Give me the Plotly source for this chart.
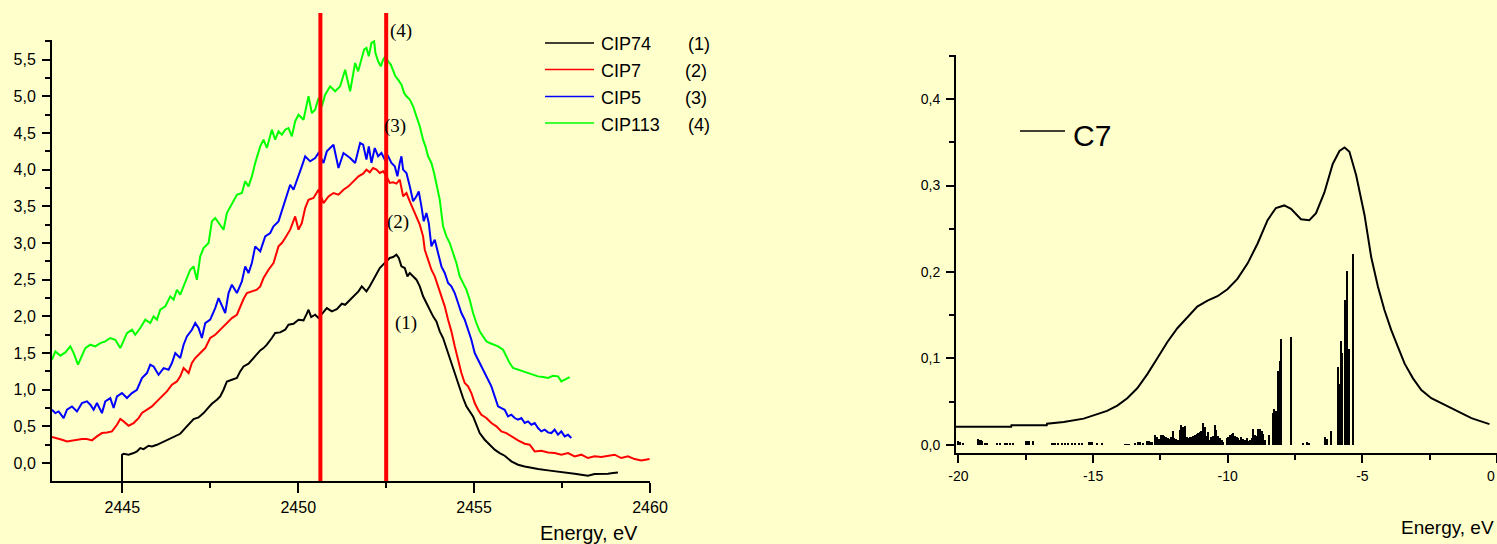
import plotly.graph_objects as go

W, H = 1497, 544

# ---------------- S K-edge spectra (left panel) ----------------
cip74_x = [2444.99, 2444.99, 2445.036, 2445.178, 2445.320, 2445.415, 2445.509, 2445.604, 2445.746, 2445.841,
           2445.983, 2446.125, 2446.267, 2446.409, 2446.551, 2446.646, 2446.788, 2446.883, 2447.025, 2447.167,
           2447.309, 2447.451, 2447.545, 2447.688, 2447.782, 2447.877, 2447.972, 2448.114, 2448.256, 2448.350,
           2448.445, 2448.587, 2448.682, 2448.777, 2448.919, 2449.013, 2449.108, 2449.250, 2449.345, 2449.487,
           2449.629, 2449.723, 2449.866, 2450.008, 2450.150, 2450.244, 2450.292, 2450.367, 2450.481, 2450.576,
           2450.718, 2450.812, 2450.955, 2451.097, 2451.239, 2451.333, 2451.475, 2451.617, 2451.712, 2451.807,
           2451.939, 2452.034, 2452.129, 2452.224, 2452.318, 2452.413, 2452.508, 2452.602, 2452.697, 2452.792,
           2452.858, 2452.934, 2453.028, 2453.104, 2453.171, 2453.265, 2453.360, 2453.455, 2453.549, 2453.644,
           2453.739, 2453.833, 2453.928, 2454.023, 2454.117, 2454.212, 2454.307, 2454.402, 2454.496, 2454.591,
           2454.686, 2454.780, 2454.875, 2454.970, 2455.064, 2455.159, 2455.301, 2455.443, 2455.585, 2455.727,
           2455.869, 2456.059, 2456.248, 2456.438, 2456.627, 2456.816, 2457.100, 2457.385, 2457.669, 2457.858,
           2458.047, 2458.237, 2458.426, 2458.616, 2458.805, 2458.947, 2459.089]
cip74_y = [-0.30, 0.113, 0.126, 0.113, 0.136, 0.158, 0.204, 0.190, 0.236, 0.227,
           0.249, 0.281, 0.317, 0.354, 0.386, 0.399, 0.477, 0.531, 0.599, 0.622,
           0.682, 0.759, 0.809, 0.863, 0.909, 1.000, 1.113, 1.136, 1.159, 1.250,
           1.318, 1.355, 1.409, 1.455, 1.536, 1.568, 1.614, 1.705, 1.773, 1.782,
           1.818, 1.887, 1.900, 1.955, 1.946, 2.037, 2.091, 1.991, 2.023, 1.978,
           2.055, 2.114, 2.068, 2.100, 2.173, 2.159, 2.227, 2.296, 2.341, 2.409,
           2.342, 2.410, 2.501, 2.592, 2.660, 2.706, 2.751, 2.797, 2.810, 2.842,
           2.797, 2.683, 2.660, 2.546, 2.592, 2.546, 2.501, 2.410, 2.274, 2.183,
           2.092, 2.001, 1.933, 1.796, 1.705, 1.569, 1.432, 1.273, 1.137, 1.000,
           0.887, 0.773, 0.705, 0.636, 0.523, 0.409, 0.318, 0.250, 0.182, 0.136,
           0.100, 0.023, -0.023, -0.046, -0.068, -0.082, -0.100, -0.114, -0.137, -0.146,
           -0.159, -0.173, -0.150, -0.150, -0.146, -0.137, -0.128]

cip7_x = [2443.000, 2443.142, 2443.284, 2443.426, 2443.568, 2443.710, 2443.852, 2443.994, 2444.136, 2444.278,
          2444.420, 2444.563, 2444.705, 2444.847, 2444.941, 2445.036, 2445.178, 2445.320, 2445.462, 2445.557,
          2445.699, 2445.841, 2445.983, 2446.125, 2446.267, 2446.409, 2446.551, 2446.646, 2446.741, 2446.883,
          2446.977, 2447.072, 2447.214, 2447.356, 2447.498, 2447.640, 2447.735, 2447.877, 2447.972, 2448.114,
          2448.256, 2448.350, 2448.445, 2448.540, 2448.682, 2448.824, 2448.919, 2449.013, 2449.155, 2449.297,
          2449.439, 2449.534, 2449.629, 2449.771, 2449.913, 2450.008, 2450.102, 2450.197, 2450.292, 2450.434,
          2450.576, 2450.718, 2450.860, 2451.002, 2451.144, 2451.286, 2451.428, 2451.570, 2451.712, 2451.845,
          2451.939, 2452.034, 2452.129, 2452.224, 2452.318, 2452.413, 2452.508, 2452.602, 2452.697, 2452.792,
          2452.886, 2452.981, 2453.076, 2453.171, 2453.265, 2453.360, 2453.455, 2453.549, 2453.597, 2453.691,
          2453.786, 2453.881, 2453.975, 2454.070, 2454.165, 2454.260, 2454.354, 2454.449, 2454.544, 2454.638,
          2454.733, 2454.828, 2454.922, 2455.017, 2455.112, 2455.206, 2455.348, 2455.491, 2455.633, 2455.775,
          2455.917, 2456.059, 2456.248, 2456.438, 2456.580, 2456.722, 2456.911, 2457.100, 2457.290, 2457.479,
          2457.669, 2457.858, 2458.047, 2458.237, 2458.426, 2458.616, 2458.805, 2458.994, 2459.184, 2459.373,
          2459.563, 2459.752, 2459.989]
cip7_y = [0.354, 0.340, 0.318, 0.295, 0.309, 0.318, 0.327, 0.327, 0.309, 0.363,
          0.409, 0.418, 0.431, 0.522, 0.600, 0.568, 0.509, 0.545, 0.613, 0.682,
          0.727, 0.772, 0.841, 0.909, 0.977, 1.068, 1.113, 1.182, 1.295, 1.227,
          1.364, 1.432, 1.500, 1.568, 1.705, 1.750, 1.796, 1.864, 1.909, 1.977,
          2.023, 2.137, 2.237, 2.318, 2.341, 2.364, 2.409, 2.523, 2.637, 2.728,
          2.955, 3.001, 3.069, 3.183, 3.364, 3.183, 3.273, 3.478, 3.592, 3.615,
          3.728, 3.546, 3.637, 3.683, 3.660, 3.728, 3.774, 3.842, 3.910, 3.947,
          4.002, 3.965, 4.024, 4.002, 3.956, 3.979, 3.911, 3.820, 3.829, 3.811,
          3.865, 3.638, 3.683, 3.570, 3.456, 3.342, 3.251, 3.092, 2.910, 2.774,
          2.637, 2.546, 2.410, 2.274, 2.137, 1.955, 1.796, 1.592, 1.410, 1.228,
          1.091, 1.046, 0.955, 0.818, 0.727, 0.659, 0.614, 0.546, 0.500, 0.432,
          0.409, 0.364, 0.309, 0.264, 0.250, 0.159, 0.168, 0.145, 0.136, 0.114,
          0.136, 0.091, 0.114, 0.068, 0.091, 0.082, 0.100, 0.114, 0.068, 0.091,
          0.054, 0.036, 0.054]

cip5_x = [2443.000, 2443.095, 2443.189, 2443.331, 2443.426, 2443.568, 2443.710, 2443.852, 2443.994, 2444.089,
          2444.184, 2444.278, 2444.420, 2444.515, 2444.657, 2444.752, 2444.847, 2444.989, 2445.131, 2445.273,
          2445.415, 2445.557, 2445.699, 2445.794, 2445.888, 2446.030, 2446.172, 2446.314, 2446.409, 2446.504,
          2446.646, 2446.741, 2446.835, 2446.977, 2447.072, 2447.167, 2447.261, 2447.356, 2447.498, 2447.640,
          2447.735, 2447.830, 2447.924, 2448.019, 2448.114, 2448.256, 2448.398, 2448.492, 2448.587, 2448.682,
          2448.777, 2448.919, 2449.061, 2449.203, 2449.297, 2449.439, 2449.534, 2449.629, 2449.771, 2449.866,
          2450.008, 2450.102, 2450.197, 2450.339, 2450.481, 2450.576, 2450.718, 2450.812, 2451.002, 2451.144,
          2451.286, 2451.475, 2451.617, 2451.759, 2451.845, 2451.939, 2452.006, 2452.081, 2452.176, 2452.271,
          2452.366, 2452.460, 2452.555, 2452.650, 2452.744, 2452.820, 2452.886, 2452.934, 2452.981, 2453.076,
          2453.171, 2453.265, 2453.360, 2453.426, 2453.502, 2453.568, 2453.644, 2453.710, 2453.786, 2453.881,
          2453.975, 2454.070, 2454.165, 2454.260, 2454.354, 2454.449, 2454.544, 2454.638, 2454.733, 2454.828,
          2454.922, 2455.017, 2455.112, 2455.206, 2455.301, 2455.396, 2455.491, 2455.585, 2455.680, 2455.775,
          2455.869, 2455.964, 2456.059, 2456.153, 2456.248, 2456.343, 2456.438, 2456.532, 2456.627, 2456.722,
          2456.816, 2456.911, 2457.006, 2457.100, 2457.195, 2457.290, 2457.385, 2457.479, 2457.574, 2457.669,
          2457.763]
cip5_y = [0.727, 0.681, 0.704, 0.613, 0.727, 0.772, 0.704, 0.818, 0.841, 0.795,
          0.727, 0.818, 0.681, 0.841, 0.886, 0.750, 0.909, 0.954, 0.886, 0.954,
          1.000, 1.159, 1.227, 1.341, 1.318, 1.204, 1.295, 1.273, 1.364, 1.500,
          1.432, 1.614, 1.727, 1.818, 1.909, 1.841, 1.705, 1.909, 1.955, 2.114,
          2.250, 2.137, 2.046, 2.319, 2.432, 2.319, 2.478, 2.682, 2.591, 2.728,
          2.955, 2.887, 3.092, 3.137, 3.228, 3.296, 3.433, 3.592, 3.796, 3.728,
          3.910, 4.047, 4.183, 4.115, 4.160, 4.228, 4.092, 4.251, 4.342, 4.024,
          4.228, 4.160, 4.092, 4.365, 4.343, 4.138, 4.320, 4.093, 4.297, 4.184,
          4.229, 4.138, 4.184, 4.093, 4.047, 3.911, 4.093, 4.184, 4.002, 3.956,
          3.774, 3.570, 3.638, 3.706, 3.501, 3.297, 3.410, 3.274, 2.956, 3.047,
          2.865, 2.683, 2.592, 2.456, 2.410, 2.319, 2.183, 2.046, 1.955, 1.819,
          1.682, 1.500, 1.410, 1.319, 1.228, 1.137, 1.046, 0.909, 0.773, 0.750,
          0.727, 0.637, 0.659, 0.614, 0.591, 0.614, 0.546, 0.568, 0.523, 0.546,
          0.477, 0.432, 0.455, 0.418, 0.409, 0.455, 0.386, 0.432, 0.364, 0.386,
          0.341]

cip113_x = [2443.000, 2443.095, 2443.237, 2443.379, 2443.521, 2443.616, 2443.739, 2443.852, 2443.947, 2444.089,
            2444.231, 2444.373, 2444.515, 2444.657, 2444.799, 2444.941, 2445.036, 2445.131, 2445.273, 2445.367,
            2445.509, 2445.652, 2445.794, 2445.888, 2445.983, 2446.078, 2446.220, 2446.362, 2446.456, 2446.551,
            2446.646, 2446.741, 2446.835, 2446.930, 2447.025, 2447.119, 2447.214, 2447.309, 2447.451, 2447.545,
            2447.640, 2447.735, 2447.877, 2447.972, 2448.114, 2448.256, 2448.398, 2448.492, 2448.587, 2448.682,
            2448.777, 2448.919, 2449.013, 2449.108, 2449.250, 2449.345, 2449.439, 2449.534, 2449.629, 2449.723,
            2449.818, 2449.913, 2450.008, 2450.150, 2450.292, 2450.386, 2450.481, 2450.576, 2450.670, 2450.765,
            2450.907, 2451.049, 2451.191, 2451.333, 2451.475, 2451.617, 2451.703, 2451.797, 2451.873, 2451.939,
            2452.006, 2452.081, 2452.157, 2452.195, 2452.271, 2452.347, 2452.413, 2452.479, 2452.555, 2452.631,
            2452.697, 2452.763, 2452.839, 2452.934, 2453.010, 2453.076, 2453.171, 2453.265, 2453.360, 2453.455,
            2453.549, 2453.616, 2453.691, 2453.786, 2453.862, 2453.928, 2454.023, 2454.117, 2454.212, 2454.307,
            2454.402, 2454.496, 2454.591, 2454.686, 2454.780, 2454.875, 2454.970, 2455.064, 2455.159, 2455.254,
            2455.348, 2455.443, 2455.585, 2455.680, 2455.822, 2455.917, 2456.011, 2456.106, 2456.248, 2456.390,
            2456.532, 2456.675, 2456.816, 2456.958, 2457.100, 2457.242, 2457.385, 2457.479, 2457.574, 2457.716]
cip113_y = [1.409, 1.523, 1.464, 1.509, 1.591, 1.500, 1.341, 1.477, 1.568, 1.614,
            1.591, 1.636, 1.659, 1.705, 1.682, 1.568, 1.659, 1.773, 1.818, 1.750,
            1.841, 1.955, 1.909, 2.000, 1.955, 2.091, 2.137, 2.273, 2.228, 2.364,
            2.296, 2.409, 2.523, 2.637, 2.682, 2.500, 2.819, 2.932, 3.001, 3.296,
            3.342, 3.273, 3.182, 3.410, 3.546, 3.660, 3.683, 3.842, 3.774, 3.910,
            4.092, 4.319, 4.410, 4.297, 4.547, 4.410, 4.524, 4.478, 4.547, 4.569,
            4.456, 4.660, 4.751, 4.683, 5.002, 4.774, 4.820, 4.979, 4.865, 5.024,
            5.138, 5.070, 5.138, 5.365, 5.070, 5.456, 5.343, 5.502, 5.639, 5.661,
            5.548, 5.730, 5.752, 5.593, 5.480, 5.411, 5.502, 5.548, 5.480, 5.434,
            5.366, 5.275, 5.229, 5.161, 5.048, 5.002, 4.957, 4.866, 4.729, 4.593,
            4.411, 4.320, 4.184, 4.093, 3.956, 3.820, 3.592, 3.229, 3.092, 3.001,
            2.865, 2.728, 2.546, 2.455, 2.365, 2.228, 2.046, 1.910, 1.796, 1.728,
            1.660, 1.637, 1.614, 1.592, 1.546, 1.455, 1.364, 1.296, 1.273, 1.250,
            1.219, 1.205, 1.182, 1.173, 1.160, 1.191, 1.182, 1.114, 1.137, 1.173]

series_names = ["CIP74", "CIP7", "CIP5", "CIP113"]
series_numbers = ["(1)", "(2)", "(3)", "(4)"]
series_colors = ["#000000", "#FF0000", "#0000FF", "#00FF00"]

# energies of the two reference lines
marker_energies = [2450.63, 2452.50]

# ---------------- calculated DOS (right panel) ----------------
c7_x = [-20.09, -18.04, -18.03, -16.72, -16.71, -16.09, -15.35, -14.98, -14.48, -14.10,
        -13.73, -13.36, -12.99, -12.62, -12.24, -11.87, -11.50, -11.13, -10.75, -10.38,
        -10.01, -9.64, -9.26, -8.89, -8.52, -8.21, -7.90, -7.65, -7.28, -6.97,
        -6.72, -6.41, -6.10, -5.85, -5.66, -5.48, -5.23, -4.92, -4.67, -4.42,
        -4.18, -3.93, -3.68, -3.43, -3.12, -2.81, -2.44, -2.06, -1.69, -1.32,
        -0.95, -0.76, -0.28]
c7_y = [0.0211, 0.0211, 0.0227, 0.0227, 0.0246, 0.0266, 0.0304, 0.0339, 0.0393, 0.0454,
        0.0539, 0.0655, 0.0816, 0.100, 0.119, 0.135, 0.148, 0.160, 0.167, 0.172,
        0.180, 0.192, 0.210, 0.233, 0.260, 0.274, 0.277, 0.273, 0.261, 0.260,
        0.268, 0.292, 0.325, 0.340, 0.344, 0.339, 0.312, 0.266, 0.217, 0.183,
        0.156, 0.133, 0.1135, 0.094, 0.077, 0.0635, 0.054, 0.048, 0.043, 0.037,
        0.031, 0.029, 0.024]

stick_x = [-20.00, -19.94, -19.82, -19.26, -19.20, -19.17, -19.11, -19.01, -18.92, -18.57,
           -18.45, -18.26, -18.20, -18.08, -17.96, -17.49, -17.42, -17.36, -17.21, -16.53,
           -16.47, -16.40, -16.28, -16.16, -16.03, -15.91, -15.78, -15.66, -15.53, -15.41,
           -15.16, -15.10, -15.04, -14.85, -14.66, -13.80, -13.74, -13.67,
           -13.42, -13.34, -13.24, -13.14, -12.99, -12.93, -12.865, -12.80, -12.68, -12.62,
           -12.55, -12.47, -12.41, -12.34, -12.27, -12.22, -12.14, -12.10, -12.03, -11.97,
           -11.91, -11.85, -11.77, -11.71, -11.65, -11.59, -11.52, -11.46, -11.40, -11.34,
           -11.28, -11.21, -11.15, -11.09, -11.03, -10.98, -10.91, -10.85, -10.79, -10.73,
           -10.67, -10.61, -10.54, -10.47, -10.41, -10.35, -10.28, -10.22, -10.16, -10.03,
           -9.97, -9.91, -9.85, -9.79, -9.72, -9.66, -9.60, -9.54, -9.48, -9.41,
           -9.35, -9.29, -9.23, -9.17, -9.10, -9.04, -8.98, -8.92, -8.86, -8.79,
           -8.73, -8.67, -8.60, -8.46,
           -8.32, -8.26, -8.20, -8.11, -8.06, -8.01, -7.65,
           -7.19, -7.05, -6.97, -6.38, -6.31, -6.16,
           -5.88, -5.84, -5.80, -5.73, -5.65, -5.57, -5.50, -5.33]
stick_h = [0.0050, 0.0038, 0.0012, 0.0065, 0.0060, 0.0058, 0.0050, 0.0027, 0.0019, 0.0019,
           0.0019, 0.0027, 0.0023, 0.0019, 0.0027, 0.0046, 0.0046, 0.0046, 0.0046, 0.0027,
           0.0023, 0.0023, 0.0027, 0.0019, 0.0023, 0.0027, 0.0023, 0.0027, 0.0023, 0.0019,
           0.0038, 0.0031, 0.0031, 0.0019, 0.0027, 0.0010, 0.0010, 0.0010,
           0.0019, 0.0031, 0.0031, 0.0027, 0.0042, 0.0050, 0.0038, 0.0031, 0.0115, 0.0089,
           0.0065, 0.0112, 0.0119, 0.0104, 0.0096, 0.0077, 0.0065, 0.0096, 0.0162, 0.0077,
           0.0069, 0.0058, 0.0173, 0.0231, 0.0212, 0.0219, 0.0096, 0.0077, 0.0089, 0.0096,
           0.0104, 0.0115, 0.0127, 0.0135, 0.0154, 0.0162, 0.0250, 0.0212, 0.0104, 0.0154,
           0.0058, 0.0089, 0.0104, 0.0231, 0.0173, 0.0104, 0.0077, 0.0058, 0.0038, 0.0077,
           0.0096, 0.0112, 0.0123, 0.0135, 0.0104, 0.0096, 0.0077, 0.0058, 0.0096, 0.0065,
           0.0058, 0.0077, 0.0050, 0.0058, 0.0077, 0.0181, 0.0115, 0.0104, 0.0185, 0.0185,
           0.0162, 0.0127, 0.0058, 0.0115,
           0.0366, 0.0410, 0.0396, 0.0858, 0.0973, 0.1224, 0.1247,
           0.0015, 0.0030, 0.0020, 0.0096, 0.0065, 0.0162,
           0.0897, 0.0700, 0.1205, 0.1066, 0.1680, 0.2009, 0.1109, 0.2213]

# ---------------- axis ticks ----------------
left_x_ticks = [2445, 2450, 2455, 2460]
left_x_ticktext = ["2445", "2450", "2455", "2460"]
left_y_ticks = [0.0, 0.5, 1.0, 1.5, 2.0, 2.5, 3.0, 3.5, 4.0, 4.5, 5.0, 5.5]
left_y_ticktext = ["0,0", "0,5", "1,0", "1,5", "2,0", "2,5", "3,0", "3,5", "4,0", "4,5", "5,0", "5,5"]
right_x_ticks = [-20, -15, -10, -5, 0]
right_x_ticktext = ["-20", "-15", "-10", "-5", "0"]
right_y_ticks = [0.0, 0.1, 0.2, 0.3, 0.4]
right_y_ticktext = ["0,0", "0,1", "0,2", "0,3", "0,4"]


def fx(px):
    return px / W


def fy(py):
    return 1 - py / H


BG = "#FFFFCC"
FONT = "Arial, Liberation Sans, sans-serif"

fig = go.Figure()

left_series = [(cip74_x, cip74_y), (cip7_x, cip7_y), (cip5_x, cip5_y), (cip113_x, cip113_y)]
for (xs, ys), name, color in zip(left_series, series_names, series_colors):
    fig.add_trace(go.Scatter(x=xs, y=ys, mode="lines", name=name,
                             line=dict(color=color, width=2), showlegend=False,
                             xaxis="x", yaxis="y"))

fig.add_trace(go.Bar(x=stick_x, y=stick_h, width=0.055, marker=dict(color="black", line=dict(width=0)),
                     showlegend=False, xaxis="x2", yaxis="y2"))
fig.add_trace(go.Scatter(x=c7_x, y=c7_y, mode="lines", name="C7",
                         line=dict(color="black", width=2), showlegend=False,
                         xaxis="x2", yaxis="y2"))

axis_common = dict(showgrid=False, zeroline=False, showline=True, linecolor="black", linewidth=2,
                   ticks="outside", tickcolor="black", tickwidth=2, tickmode="array",
                   automargin=False)

fig.update_layout(
    width=W, height=H, autosize=False,
    margin=dict(l=0, r=0, t=0, b=0, pad=0, autoexpand=False),
    paper_bgcolor=BG, plot_bgcolor=BG,
    font=dict(family=FONT, color="black"),
    showlegend=False,
    bargap=0,
    xaxis=dict(axis_common, domain=[fx(52), fx(650)], range=[2443.0, 2460.0],
               tickvals=left_x_ticks, ticktext=left_x_ticktext, ticklen=10,
               tickfont=dict(size=16), ticklabelstandoff=1,
               minor=dict(tickmode="linear", tick0=2442.5, dtick=5, ticks="outside",
                          ticklen=5, tickwidth=1.5, tickcolor="black"),
               anchor="y"),
    yaxis=dict(axis_common, domain=[fy(481), fy(40)], range=[-0.245, 5.77],
               tickvals=left_y_ticks, ticktext=left_y_ticktext, ticklen=8,
               tickfont=dict(size=16), ticklabelstandoff=3,
               minor=dict(tickmode="linear", tick0=0.25, dtick=0.5, ticks="outside",
                          ticklen=5, tickwidth=1.5, tickcolor="black"),
               anchor="x"),
    xaxis2=dict(axis_common, domain=[fx(956), 1.0], range=[-20.09, 0.0],
                tickvals=right_x_ticks, ticktext=right_x_ticktext, ticklen=8,
                tickfont=dict(size=14), ticklabelstandoff=1,
                minor=dict(tickmode="linear", tick0=-17.5, dtick=5, ticks="outside",
                           ticklen=5, tickwidth=1.5, tickcolor="black"),
                anchor="y2"),
    yaxis2=dict(axis_common, domain=[fy(452.7), fy(55)], range=[-0.009, 0.451],
                tickvals=right_y_ticks, ticktext=right_y_ticktext, ticklen=8,
                tickfont=dict(size=14), ticklabelstandoff=3,
                minor=dict(tickmode="linear", tick0=0.05, dtick=0.1, ticks="outside",
                           ticklen=5, tickwidth=1.5, tickcolor="black"),
                anchor="x2"),
)

# the last tick label sits at the page edge: keep it inside, right-aligned to its tick
fig.add_annotation(x=right_x_ticks[-1], xref="x2", y=fy(476), yref="paper", text=right_x_ticktext[-1],
                   showarrow=False, xanchor="right", yanchor="middle", font=dict(size=14, color="black"))

# vertical reference lines at the two energies
for e in marker_energies:
    fig.add_shape(type="line", xref="x", yref="paper", x0=e, x1=e, y0=fy(481), y1=fy(13),
                  line=dict(color="#FF0000", width=4), layer="above")

# curve numbers next to the spectra
for txt, lx, py in zip(series_numbers, [2453.07, 2452.83, 2452.74, 2452.93], [323, 222.5, 126, 31.5]):
    fig.add_annotation(x=lx, y=fy(py), xref="x", yref="paper", text=txt, showarrow=False,
                       xanchor="center", yanchor="middle",
                       font=dict(family="Liberation Serif, Times New Roman, serif", size=19, color="black"))

# left legend
legend_rows = [43, 69.5, 96.5, 123]
number_x = [686, 683, 683, 686]
for name, num, color, ry, nx in zip(series_names, series_numbers, series_colors, legend_rows, number_x):
    fig.add_shape(type="line", xref="paper", yref="paper", x0=fx(545), x1=fx(594), y0=fy(ry), y1=fy(ry),
                  line=dict(color=color, width=1.5))
    fig.add_annotation(x=fx(599), y=fy(ry + 1.5), xref="paper", yref="paper", text=name, showarrow=False,
                       xanchor="left", yanchor="middle", font=dict(size=18, color="black"))
    fig.add_annotation(x=fx(nx), y=fy(ry + 1.5), xref="paper", yref="paper", text=num, showarrow=False,
                       xanchor="left", yanchor="middle", font=dict(size=18, color="black"))

# right legend
fig.add_shape(type="line", xref="paper", yref="paper", x0=fx(1020), x1=fx(1065), y0=fy(131), y1=fy(131),
              line=dict(color="black", width=1.5))
fig.add_annotation(x=fx(1071), y=fy(135), xref="paper", yref="paper", text="C7", showarrow=False,
                   xanchor="left", yanchor="middle", font=dict(size=30, color="black"))

# axis titles
fig.add_annotation(x=fx(589), y=fy(533), xref="paper", yref="paper", text="Energy, eV", showarrow=False,
                   xanchor="center", yanchor="middle", font=dict(size=20, color="black"))
fig.add_annotation(x=fx(1447), y=fy(527), xref="paper", yref="paper", text="Energy, eV", showarrow=False,
                   xanchor="center", yanchor="middle", font=dict(size=19, color="black"))

fig.write_html("out.html")
